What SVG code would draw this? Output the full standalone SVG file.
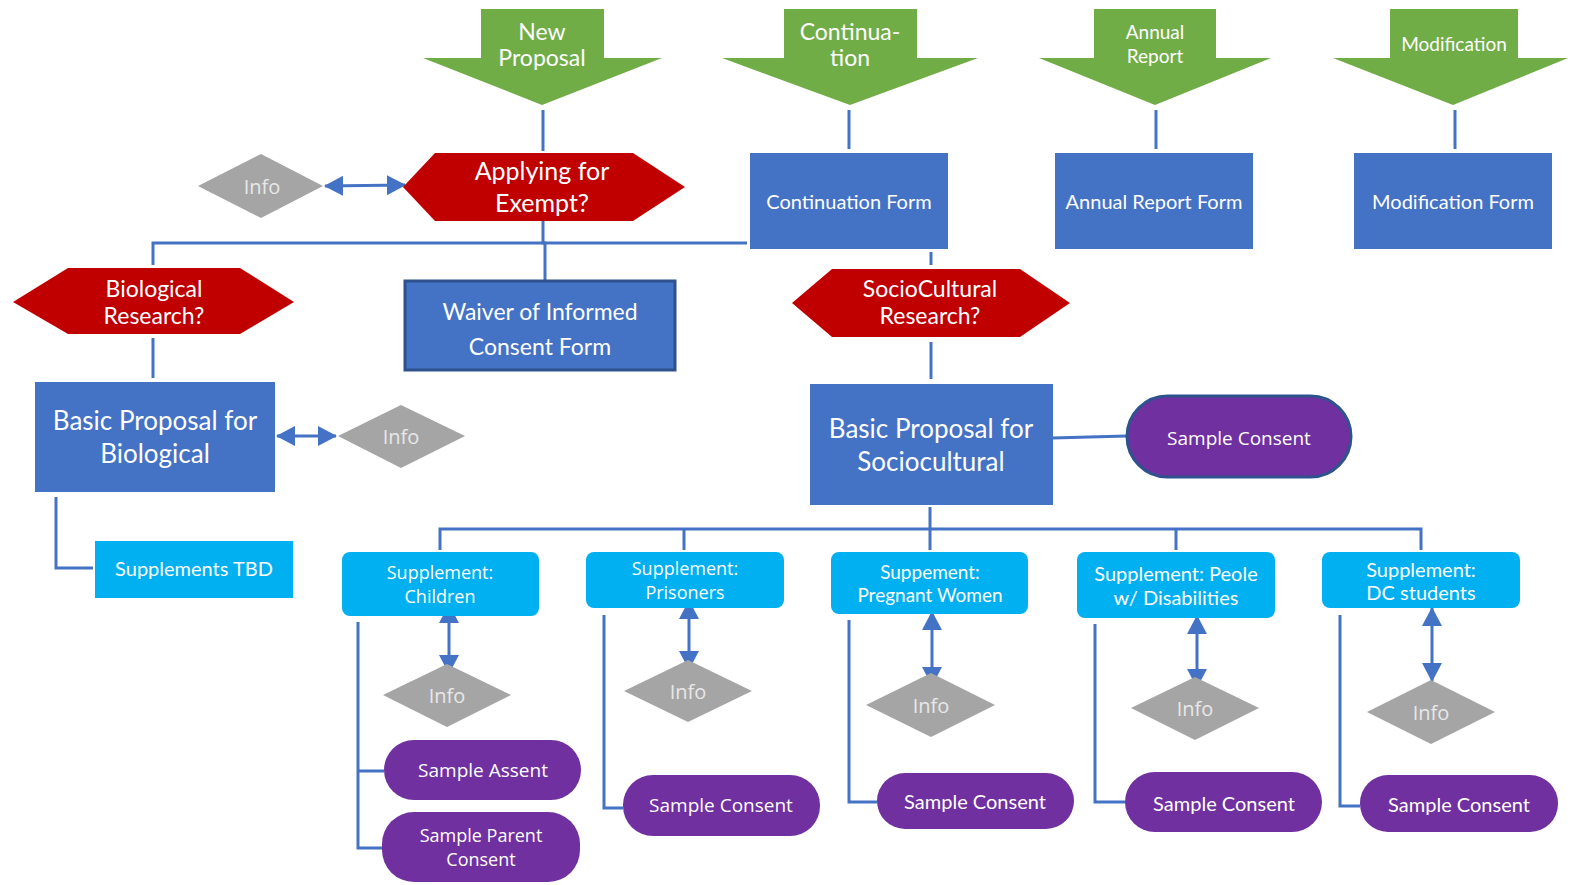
<svg xmlns="http://www.w3.org/2000/svg" width="1573" height="885" viewBox="0 0 1573 885">
<defs>
<style>
.arrow{fill:#70AD47}
.hex{fill:#C00000}
.box{fill:#4472C4}
.sup{fill:#00B0F0}
.pill{fill:#7030A0}
.info{fill:#A5A5A5}
.t{fill:#FFFFFF;font-family:Lato,"Open Sans",sans-serif;text-anchor:middle;dominant-baseline:central}
.s{fill:#FFFFFF;font-family:"Open Sans",Lato,sans-serif;text-anchor:middle;dominant-baseline:central}
.it{fill:#E8E8E8;font-family:"Open Sans",sans-serif;text-anchor:middle;dominant-baseline:central;font-size:20px}
.c{fill:none;stroke:#4472C4;stroke-width:3}
.d{fill:none;stroke:#4472C4;stroke-width:3;marker-start:url(#ah);marker-end:url(#ah)}
</style>
<marker id="ah" viewBox="0 0 10 10" refX="9.5" refY="5" markerWidth="19" markerHeight="20" markerUnits="userSpaceOnUse" orient="auto-start-reverse" preserveAspectRatio="none">
<path d="M0,0 L10,5 L0,10 Z" fill="#4472C4"/>
</marker>
</defs>

<g id="connectors">
<line class="c" x1="543" y1="110" x2="543" y2="151"/>
<line class="c" x1="849" y1="110" x2="849" y2="149"/>
<line class="c" x1="1156" y1="110" x2="1156" y2="149"/>
<line class="c" x1="1455" y1="110" x2="1455" y2="149"/>
<line class="d" x1="325" y1="186" x2="405" y2="185"/>
<polyline class="c" points="153,265 153,243 747,243"/>
<polyline class="c" points="543,221 543,243 545,243 545,280"/>
<line class="c" x1="153" y1="338" x2="153" y2="378"/>
<line class="d" x1="277" y1="436" x2="336" y2="436"/>
<polyline class="c" points="56,497 56,568 93,568"/>
<line class="c" x1="931" y1="252" x2="931" y2="265"/>
<line class="c" x1="931" y1="342" x2="931" y2="379"/>
<polyline class="c" points="1053,438 1089,437 1127,436"/>
<line class="c" x1="930" y1="507" x2="930" y2="550"/>
<polyline class="c" points="440,550 440,529 1421,529 1421,550"/>
<line class="c" x1="684" y1="529" x2="684" y2="550"/>
<line class="c" x1="1176" y1="529" x2="1176" y2="550"/>
<line class="d" x1="449" y1="605" x2="449" y2="673"/>
<line class="d" x1="689" y1="601" x2="689" y2="669"/>
<line class="d" x1="932" y1="612" x2="932" y2="685"/>
<line class="d" x1="1197" y1="616" x2="1197" y2="687"/>
<line class="d" x1="1432" y1="608" x2="1432" y2="681"/>
<polyline class="c" points="358,622 358,848 382,848"/>
<line class="c" x1="358" y1="771" x2="384" y2="771"/>
<polyline class="c" points="604,615 604,808 623,808"/>
<polyline class="c" points="849,620 849,802 877,802"/>
<polyline class="c" points="1095,624 1095,802 1125,802"/>
<polyline class="c" points="1340,615 1340,806 1360,806"/>
</g>

<g id="new-proposal">
<polygon class="arrow" points="481,9 604,9 604,58 662,58 542,105 423,58 481,58"/>
<text class="t" font-size="23" x="542" y="31">New</text>
<text class="t" font-size="23" x="542" y="57">Proposal</text>
</g>
<g id="continuation">
<polygon class="arrow" points="784,9 917,9 917,58 978,58 850,105 722,58 784,58"/>
<text class="t" font-size="23" x="850" y="31">Continua-</text>
<text class="t" font-size="23" x="850" y="57">tion</text>
</g>
<g id="annual-report">
<polygon class="arrow" points="1094,9 1216,9 1216,58 1271,58 1155,105 1039,58 1094,58"/>
<text class="t" font-size="19" x="1155" y="31">Annual</text>
<text class="t" font-size="19" x="1155" y="55">Report</text>
</g>
<g id="modification">
<polygon class="arrow" points="1390,9 1518,9 1518,58 1568,58 1453,105 1333,58 1390,58"/>
<text class="t" font-size="19" x="1454" y="43">Modification</text>
</g>

<g id="continuation-form">
<rect class="box" x="750" y="153" width="198" height="96"/>
<text class="t" font-size="20" x="849" y="201">Continuation Form</text>
</g>
<g id="annual-report-form">
<rect class="box" x="1055" y="153" width="198" height="96"/>
<text class="t" font-size="20" x="1154" y="201">Annual Report Form</text>
</g>
<g id="modification-form">
<rect class="box" x="1354" y="153" width="198" height="96"/>
<text class="t" font-size="20" x="1453" y="201">Modification Form</text>
</g>

<g id="applying-exempt">
<polygon class="hex" points="403,187 435,153 633,153 685,187 633,221 435,221"/>
<text class="t" font-size="25" x="542" y="170">Applying for</text>
<text class="t" font-size="25" x="542" y="202">Exempt?</text>
</g>
<g id="info-top">
<polygon class="info" points="198,186 261,154 323,186 261,218"/>
<text class="it" x="262" y="186">Info</text>
</g>

<g id="biological-research">
<polygon class="hex" points="13,302 68,268 240,268 294,302 240,334 68,334"/>
<text class="t" font-size="23" x="154" y="288">Biological</text>
<text class="t" font-size="23" x="154" y="315">Research?</text>
</g>
<g id="waiver">
<rect class="box" x="405" y="281" width="270" height="89" stroke="#2F528F" stroke-width="3"/>
<text class="t" font-size="23" x="540" y="311">Waiver of Informed</text>
<text class="t" font-size="23" x="540" y="346">Consent Form</text>
</g>
<g id="basic-biological">
<rect class="box" x="35" y="382" width="240" height="110"/>
<text class="t" font-size="26" x="155" y="420">Basic Proposal for</text>
<text class="t" font-size="26" x="155" y="453">Biological</text>
</g>
<g id="info-bio">
<polygon class="info" points="338,436 401,405 465,436 401,468"/>
<text class="it" x="401" y="436">Info</text>
</g>
<g id="supplements-tbd">
<rect class="sup" x="95" y="541" width="198" height="57"/>
<text class="t" font-size="20" x="194" y="568">Supplements TBD</text>
</g>

<g id="sociocultural-research">
<polygon class="hex" points="792,303 832,269 1020,269 1070,303 1020,337 832,337"/>
<text class="t" font-size="23" x="930" y="288">SocioCultural</text>
<text class="t" font-size="23" x="930" y="315">Research?</text>
</g>
<g id="basic-sociocultural">
<rect class="box" x="810" y="384" width="243" height="121"/>
<text class="t" font-size="26" x="931" y="428">Basic Proposal for</text>
<text class="t" font-size="26" x="931" y="461">Sociocultural</text>
</g>
<g id="sample-consent-top">
<rect class="pill" x="1127" y="396" width="224" height="81" rx="40.5" stroke="#2F528F" stroke-width="3"/>
<text class="s" font-size="19" x="1239" y="438">Sample Consent</text>
</g>

<g id="supp-children">
<rect class="sup" x="342" y="552" width="197" height="64" rx="8"/>
<text class="s" font-size="18" x="440" y="572">Supplement:</text>
<text class="s" font-size="18" x="440" y="596">Children</text>
</g>
<g id="supp-prisoners">
<rect class="sup" x="586" y="552" width="198" height="56" rx="8"/>
<text class="s" font-size="18" x="685" y="568">Supplement:</text>
<text class="s" font-size="18" x="685" y="592">Prisoners</text>
</g>
<g id="supp-pregnant">
<rect class="sup" x="831" y="552" width="197" height="62" rx="8"/>
<text class="t" font-size="19" x="930" y="571">Suppement:</text>
<text class="t" font-size="19" x="930" y="594">Pregnant Women</text>
</g>
<g id="supp-disabilities">
<rect class="sup" x="1077" y="552" width="198" height="66" rx="8"/>
<text class="t" font-size="20" x="1176" y="573">Supplement: Peole</text>
<text class="t" font-size="20" x="1176" y="597">w/ Disabilities</text>
</g>
<g id="supp-dc">
<rect class="sup" x="1322" y="552" width="198" height="56" rx="8"/>
<text class="t" font-size="20" x="1421" y="569">Supplement:</text>
<text class="t" font-size="20" x="1421" y="592">DC students</text>
</g>

<g id="info-children">
<polygon class="info" points="383,695 447,664 511,695 447,727"/>
<text class="it" x="447" y="695">Info</text>
</g>
<g id="info-prisoners">
<polygon class="info" points="624,691 688,660 752,691 688,722"/>
<text class="it" x="688" y="691">Info</text>
</g>
<g id="info-pregnant">
<polygon class="info" points="866,705 931,673 995,705 931,737"/>
<text class="it" x="931" y="705">Info</text>
</g>
<g id="info-disabilities">
<polygon class="info" points="1131,708 1195,677 1259,708 1195,740"/>
<text class="it" x="1195" y="708">Info</text>
</g>
<g id="info-dc">
<polygon class="info" points="1367,712 1431,680 1495,712 1431,744"/>
<text class="it" x="1431" y="712">Info</text>
</g>

<g id="sample-assent">
<rect class="pill" x="384" y="740" width="197" height="60" rx="30"/>
<text class="s" font-size="19" x="483" y="770">Sample Assent</text>
</g>
<g id="sample-parent-consent">
<rect class="pill" x="382" y="812" width="198" height="70" rx="32"/>
<text class="s" font-size="18" x="481" y="835">Sample Parent</text>
<text class="s" font-size="18" x="481" y="859">Consent</text>
</g>
<g id="sample-consent-prisoners">
<rect class="pill" x="623" y="775" width="197" height="61" rx="30"/>
<text class="s" font-size="19" x="721" y="805">Sample Consent</text>
</g>
<g id="sample-consent-pregnant">
<rect class="pill" x="877" y="773" width="197" height="56" rx="28"/>
<text class="t" font-size="20" x="975" y="801">Sample Consent</text>
</g>
<g id="sample-consent-disabilities">
<rect class="pill" x="1125" y="772" width="197" height="60" rx="30"/>
<text class="t" font-size="20" x="1224" y="803">Sample Consent</text>
</g>
<g id="sample-consent-dc">
<rect class="pill" x="1360" y="775" width="198" height="57" rx="28"/>
<text class="t" font-size="20" x="1459" y="804">Sample Consent</text>
</g>
</svg>
